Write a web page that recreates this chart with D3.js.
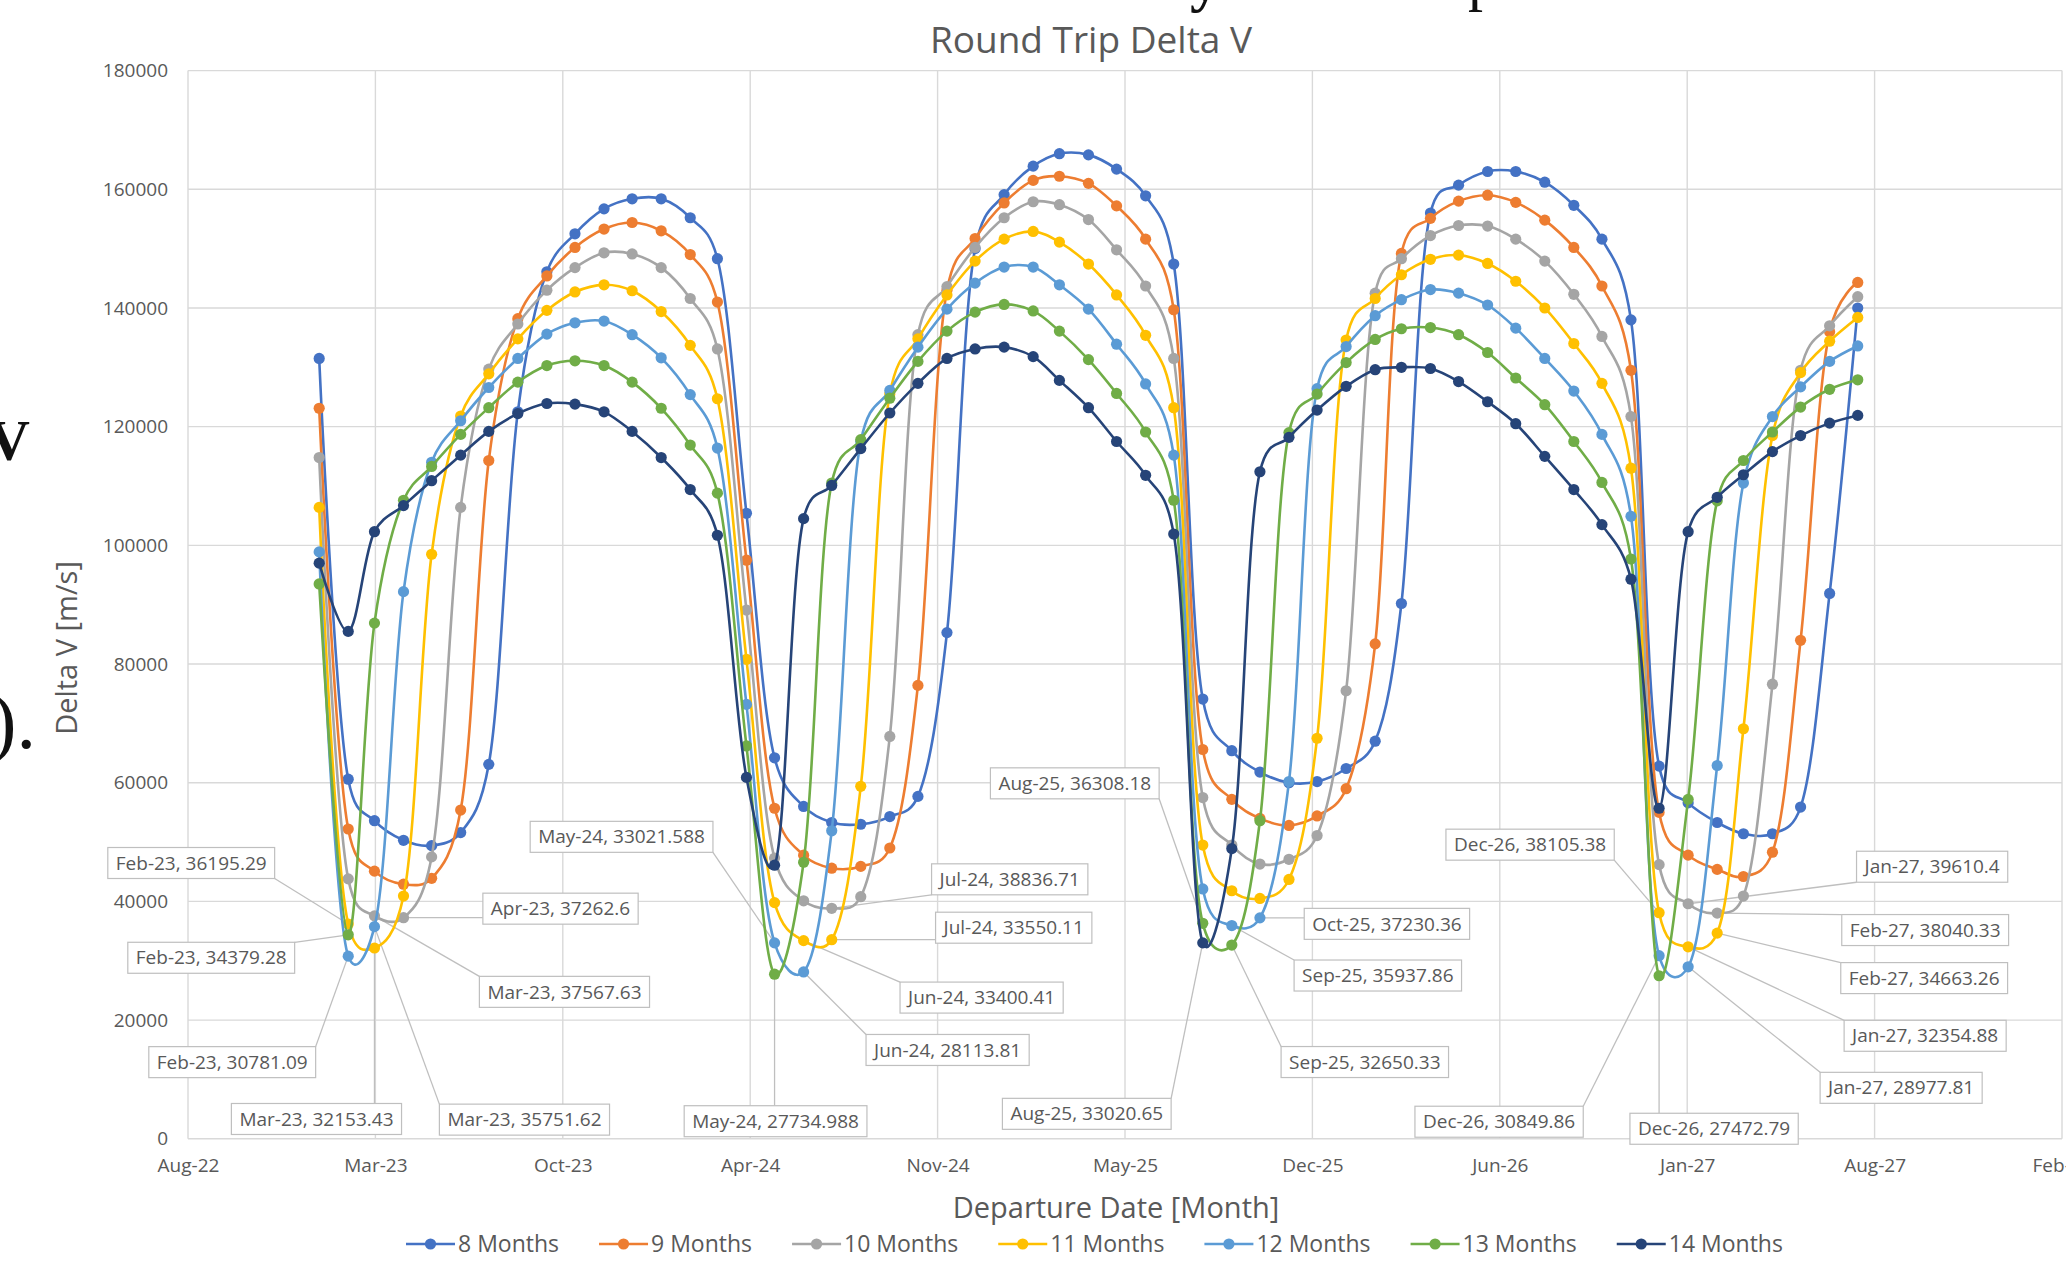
<!DOCTYPE html>
<html>
<head>
<meta charset="utf-8">
<script src="https://cdn.jsdelivr.net/npm/d3@7"></script>
<style>
body { margin: 0; background: #fff; }
svg { display: block; font-family: "Open Sans", sans-serif; }
</style>
</head>
<body>
<svg id="chart" width="2066" height="1264"></svg>
<script>
// departure months (one point per month, middle of the month)
var months = ["Jan-23","Feb-23","Mar-23","Apr-23","May-23","Jun-23","Jul-23","Aug-23","Sep-23","Oct-23","Nov-23","Dec-23",
	"Jan-24","Feb-24","Mar-24","Apr-24","May-24","Jun-24","Jul-24","Aug-24","Sep-24","Oct-24","Nov-24","Dec-24",
	"Jan-25","Feb-25","Mar-25","Apr-25","May-25","Jun-25","Jul-25","Aug-25","Sep-25","Oct-25","Nov-25","Dec-25",
	"Jan-26","Feb-26","Mar-26","Apr-26","May-26","Jun-26","Jul-26","Aug-26","Sep-26","Oct-26","Nov-26","Dec-26",
	"Jan-27","Feb-27","Mar-27","Apr-27","May-27","Jun-27","Jul-27"];

var seriesNames = ["8 Months","9 Months","10 Months","11 Months","12 Months","13 Months","14 Months"];

// round trip delta v [m/s]
var dv8 = [131500,60600,53600,50300,49400,51600,63100,122500,146100,152500,156700,158400,158400,155200,148300,105400,64200,56000,53300,53000,54300,57700,85300,150000,159100,163900,166000,165800,163400,158900,147400,74100,65400,61800,60000,60200,62400,67000,90200,156000,160700,163000,163000,161200,157300,151600,138000,62800,56600,53300,51400,51400,55900,91900,140000];
var dv9 = [123100,52200,45100,42900,43900,55400,114300,138200,145400,150200,153300,154400,153000,149000,141000,97500,55700,47800,45600,45900,49000,76400,143000,151700,157700,161500,162200,161000,157200,151600,139700,65600,57200,54000,52800,54400,59000,83400,149200,155100,158000,159000,157800,154800,150200,143700,129500,55000,47800,45400,44200,48300,84000,136000,144300];
var dv10 = [114800,43800,37567.63,37262.6,47500,106400,129700,137300,143000,146800,149300,149100,146800,141600,133100,89100,47300,40100,38836.71,40800,67800,135500,143600,150200,155200,157900,157400,154900,149800,143700,131500,57500,49500,46300,47100,51100,75500,142500,148300,152200,153900,153800,151600,147900,142300,135200,121700,46200,39610.4,38040.33,40900,76600,129500,137000,141900];
var dv11 = [106400,36195.29,32153.43,40900,98500,121800,128900,134800,139600,142700,143900,142900,139400,133700,124700,80800,39800,33400.41,33550.11,59400,125500,134800,142200,147900,151600,152900,151100,147400,142200,135400,123200,49500,41800,40500,43700,67500,134600,141600,145600,148200,148900,147500,144500,140000,134000,127300,113000,38105.38,32354.88,34663.26,69100,118500,129100,134400,138400];
var dv12 = [98900,30781.09,35751.62,92200,114000,121000,126600,131500,135600,137500,137800,135500,131600,125400,116400,73200,33021.588,28113.81,51900,117500,126100,133400,139800,144200,146900,146900,143900,139800,133900,127200,115200,42100,35937.86,37230.36,60200,126400,133500,138700,141400,143100,142500,140500,136600,131500,126000,118700,104900,30849.86,28977.81,62900,110500,121700,126700,131000,133600];
var dv13 = [93500,34379.28,86900,107600,113300,118700,123200,127500,130300,131100,130300,127500,123100,116900,108800,66200,27734.988,46600,110500,117800,124800,131000,136100,139300,140600,139500,136100,131300,125600,119100,107600,36308.18,32650.33,53600,119000,125500,130800,134700,136500,136700,135500,132500,128200,123700,117500,110600,97700,27472.79,57200,107500,114300,119100,123300,126300,127900];
var dv14 = [97000,85500,102300,106700,110900,115200,119200,122200,123900,123800,122500,119200,114800,109400,101700,60900,46100,104500,110100,116300,122300,127300,131500,133100,133400,131800,127800,123200,117500,111800,101900,33020.65,48900,112400,118200,122800,126800,129600,130000,129800,127600,124200,120500,115000,109400,103500,94300,55700,102300,108100,111900,115800,118500,120600,121900];

var yTicks = [0,20000,40000,60000,80000,100000,120000,140000,160000,180000];
var xTickLabels = ["Aug-22","Mar-23","Oct-23","Apr-24","Nov-24","May-25","Dec-25","Jun-26","Jan-27","Aug-27","Feb-28"];
var axisStart = "2022-08-28"; // excel date axis, major unit 200 days
var tickStepDays = 200;

// labelled points: series index, month, label offset from the point (px)
var callouts = [
	{s:3, m:"Feb-23", dx:-157, dy:-61},
	{s:5, m:"Feb-23", dx:-137, dy:23},
	{s:4, m:"Feb-23", dx:-116, dy:106},
	{s:3, m:"Mar-23", dx:-58, dy:171},
	{s:4, m:"Mar-23", dx:150, dy:193},
	{s:2, m:"Mar-23", dx:190, dy:76},
	{s:2, m:"Apr-23", dx:157, dy:-9},
	{s:4, m:"May-24", dx:-153, dy:-106},
	{s:5, m:"May-24", dx:1, dy:147},
	{s:2, m:"Jul-24", dx:178, dy:-29},
	{s:3, m:"Jul-24", dx:182, dy:-12},
	{s:3, m:"Jun-24", dx:178, dy:57},
	{s:4, m:"Jun-24", dx:144, dy:78},
	{s:5, m:"Aug-25", dx:-128, dy:-140},
	{s:6, m:"Aug-25", dx:-116, dy:171},
	{s:4, m:"Oct-25", dx:127, dy:6},
	{s:4, m:"Sep-25", dx:146, dy:50},
	{s:5, m:"Sep-25", dx:133, dy:117},
	{s:3, m:"Dec-26", dx:-129, dy:-68},
	{s:4, m:"Dec-26", dx:-160, dy:166},
	{s:5, m:"Dec-26", dx:55, dy:153},
	{s:2, m:"Jan-27", dx:244, dy:-37},
	{s:2, m:"Feb-27", dx:208, dy:17},
	{s:3, m:"Feb-27", dx:207, dy:45},
	{s:3, m:"Jan-27", dx:237, dy:89},
	{s:4, m:"Jan-27", dx:213, dy:121}
];

var colors = ["#4472C4","#ED7D31","#A5A5A5","#FFC000","#5B9BD5","#70AD47","#264478"];
var textColor = "#595959";

var allSeries = [dv8, dv9, dv10, dv11, dv12, dv13, dv14];

var parseMonth = d3.timeParse("%b-%y");
var monthDates = months.map(function(m) { return d3.timeDay.offset(parseMonth(m), 14); });
var start = d3.timeParse("%Y-%m-%d")(axisStart);
var tickDates = xTickLabels.map(function(l, i) { return d3.timeDay.offset(start, tickStepDays * i); });

var svg = d3.select("#chart");

var x = d3.scaleTime()
	.domain([tickDates[0], tickDates[tickDates.length - 1]])
	.range([188, 2062]);
var y = d3.scaleLinear()
	.domain([0, 180000])
	.range([1138.8, 70.6]);

// bits of the surrounding document that got cropped in
svg.append("text").attr("x", 1190).attr("y", 0).attr("font-family", "Liberation Serif").attr("font-weight", "bold")
	.attr("font-size", 60).attr("fill", "#111").text("y");
svg.append("text").attr("x", 1468).attr("y", -1).attr("font-family", "Liberation Serif")
	.attr("font-size", 60).attr("fill", "#111").text("p");
svg.append("text").attr("x", 30).attr("y", 460).attr("text-anchor", "end").attr("font-family", "Liberation Serif")
	.attr("font-weight", "bold").attr("font-size", 58).attr("fill", "#111").text("V");
svg.append("text").attr("x", 36).attr("y", 748).attr("text-anchor", "end").attr("font-family", "Liberation Serif")
	.attr("font-size", 78).attr("fill", "#111").text(").");

// gridlines
svg.append("g")
	.selectAll("line.h")
	.data(yTicks)
	.enter()
	.append("line")
	.attr("x1", 188).attr("x2", 2062)
	.attr("y1", function(d) { return y(d); })
	.attr("y2", function(d) { return y(d); })
	.attr("stroke", "#d9d9d9")
	.attr("stroke-width", 1.4);
svg.append("g")
	.selectAll("line.v")
	.data(tickDates)
	.enter()
	.append("line")
	.attr("y1", y(0)).attr("y2", y(180000))
	.attr("x1", function(d) { return x(d); })
	.attr("x2", function(d) { return x(d); })
	.attr("stroke", "#d9d9d9")
	.attr("stroke-width", 1.4);

// axes (labels only, excel style)
var yAxis = svg.append("g")
	.attr("transform", "translate(188,0)")
	.call(d3.axisLeft(y).tickValues(yTicks).tickFormat(d3.format("d")).tickSize(0).tickPadding(20));
var xAxis = svg.append("g")
	.attr("transform", "translate(0," + y(0) + ")")
	.call(d3.axisBottom(x).tickValues(tickDates)
		.tickFormat(function(d, i) { return xTickLabels[i]; })
		.tickSize(0).tickPadding(20));
[yAxis, xAxis].forEach(function(ax) {
	ax.select(".domain").remove();
	ax.selectAll("text").attr("fill", textColor).attr("font-size", 19).attr("font-family", "Open Sans");
});

// title + axis titles
svg.append("text").attr("x", 1091).attr("y", 53).attr("text-anchor", "middle")
	.attr("font-size", 37).attr("fill", textColor).text("Round Trip Delta V");
svg.append("text").attr("x", 1116).attr("y", 1218).attr("text-anchor", "middle")
	.attr("font-size", 29).attr("fill", textColor).text("Departure Date [Month]");
svg.append("text").attr("transform", "translate(77,648) rotate(-90)").attr("text-anchor", "middle")
	.attr("font-size", 29).attr("fill", textColor).text("Delta V [m/s]");

// leader lines go under the series
var leaderG = svg.append("g");

// series lines (smoothed like excel, a bit of overshoot at the dips)
var line = d3.line()
	.x(function(d, i) { return x(monthDates[i]); })
	.y(function(d) { return y(d); })
	.curve(d3.curveCatmullRom.alpha(0.25));

allSeries.forEach(function(data, s) {
	var g = svg.append("g");
	g.append("path")
		.attr("d", line(data))
		.attr("fill", "none")
		.attr("stroke", colors[s])
		.attr("stroke-width", 2.6);
	g.selectAll("circle")
		.data(data)
		.enter()
		.append("circle")
		.attr("cx", function(d, i) { return x(monthDates[i]); })
		.attr("cy", function(d) { return y(d); })
		.attr("r", 5.6)
		.attr("fill", colors[s]);
});

// data labels with leader lines
var labelG = svg.append("g");
callouts.forEach(function(c) {
	var i = months.indexOf(c.m);
	var v = allSeries[c.s][i];
	var px = x(monthDates[i]), py = y(v);
	var cx = px + c.dx, cy = py + c.dy;
	var lab = labelG.append("g");
	var rect = lab.append("rect");
	var txt = lab.append("text")
		.attr("x", cx).attr("y", cy)
		.attr("text-anchor", "middle")
		.attr("dy", "0.35em")
		.attr("font-size", 19)
		.attr("fill", textColor)
		.text(c.m + ", " + v);
	var w = txt.node().getComputedTextLength() + 16;
	var h = 31;
	var x0 = cx - w / 2, y0 = cy - h / 2;
	rect.attr("x", x0).attr("y", y0).attr("width", w).attr("height", h)
		.attr("fill", "#fff").attr("stroke", "#bfbfbf").attr("stroke-width", 1.2);
	// nearest point of the box border
	var ex = Math.max(x0, Math.min(px, x0 + w));
	var ey = Math.max(y0, Math.min(py, y0 + h));
	leaderG.append("line")
		.attr("x1", ex).attr("y1", ey)
		.attr("x2", px).attr("y2", py)
		.attr("stroke", "#bfbfbf")
		.attr("stroke-width", 1.3);
});

// legend
var legend = svg.append("g");
var lx = 406;
seriesNames.forEach(function(name, s) {
	legend.append("line")
		.attr("x1", lx).attr("x2", lx + 49)
		.attr("y1", 1244).attr("y2", 1244)
		.attr("stroke", colors[s]).attr("stroke-width", 2.6);
	legend.append("circle")
		.attr("cx", lx + 24.5).attr("cy", 1244).attr("r", 5.6)
		.attr("fill", colors[s]);
	var t = legend.append("text")
		.attr("x", lx + 52).attr("y", 1244).attr("dy", "0.35em")
		.attr("font-size", 23).attr("fill", textColor)
		.text(name);
	lx = lx + 52 + t.node().getComputedTextLength() + 40;
});
</script>
</body>
</html>
